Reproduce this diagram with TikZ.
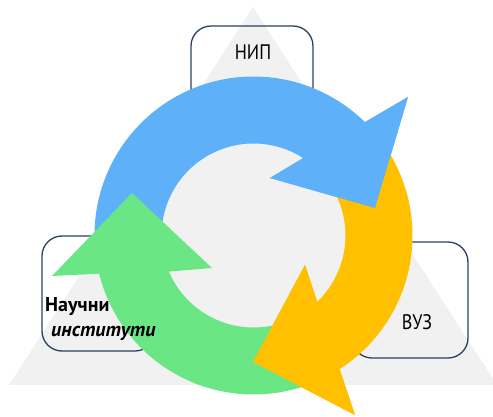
\documentclass[tikz,border=0pt]{standalone}
\usepackage{fontspec}
\setmainfont[FakeStretch=0.86]{PT Sans}
\newfontfamily\instfont{PT Sans}
\usetikzlibrary{positioning}
\definecolor{arrblue}{HTML}{5EB1F9}
\definecolor{arryellow}{HTML}{FFC000}
\definecolor{arrgreen}{HTML}{6AE685}
\definecolor{trigray}{HTML}{F1F1F1}
\definecolor{boxline}{HTML}{2B4161}

\begin{document}
\begin{tikzpicture}[x=1pt,y=1pt,
  box/.style={draw=boxline,line width=1.3pt,rounded corners=20pt},
  lbl/.style={inner sep=0pt,font=\fontsize{21}{24}\selectfont},
  boldlbl/.style={inner sep=0pt,font=\instfont\fontsize{20}{24}\selectfont\bfseries}]
\useasboundingbox (-253.5,-181.5) rectangle (239.5,235.5);

% background triangle
\fill [trigray](-0.5,228.5)--(-244.5,-149.5)--(243.5,-149.5)--cycle;

% frames
\draw [box](-62.5,115.5) rectangle (59.5,209.5);
\draw [box](-211.5,-115.5) rectangle (-98.5,-0.5);
\draw [box](98.5,-122.5) rectangle (214.5,-6.5);

% blue arrow
\fill [arrblue](185:159) arc[start angle=185,end angle=45.5,radius=159]
  --(154.5,138.5)--(121.5,27.5)--(16.5,57.5)--(57.4:92)
  arc[start angle=57.4,end angle=185,radius=92]--cycle;
% yellow arrow
\fill [arryellow](35:159) arc[start angle=35,end angle=-57.3,radius=159]
  --(101.5,-179.5)--(-0.5,-126.5)--(51.5,-29.5)--(-46.3:92)
  arc[start angle=-46.3,end angle=35,radius=92]--cycle;
% green arrow
\fill [arrgreen](-68:159) arc[start angle=-68,end angle=-166.1,radius=159]
  --(-201.5,-40.5)--(-121.5,42.5)--(-41.5,-32.5)--(-156.9:92)
  arc[start angle=-156.9,end angle=-68,radius=92]--cycle;

% heads on top
\fill [arrblue](154.5,138.5)--(121.5,27.5)--(16.5,57.5)--cycle;
\fill [arryellow](101.5,-179.5)--(-0.5,-126.5)--(51.5,-29.5)--cycle;

% labels
\node [lbl,anchor=base] (nip) at (-0.5,175.5) {НИП};
\node [lbl,anchor=base] (vuz) at (163.5,-94.5) {ВУЗ};
\node [boldlbl,anchor=base west] (inst1) at (-208.5,-76.5) {Научни};
\node [boldlbl,anchor=base west] (inst2) at (-202.5,-101.5) {\itshape институти};
\end{tikzpicture}
\end{document}
